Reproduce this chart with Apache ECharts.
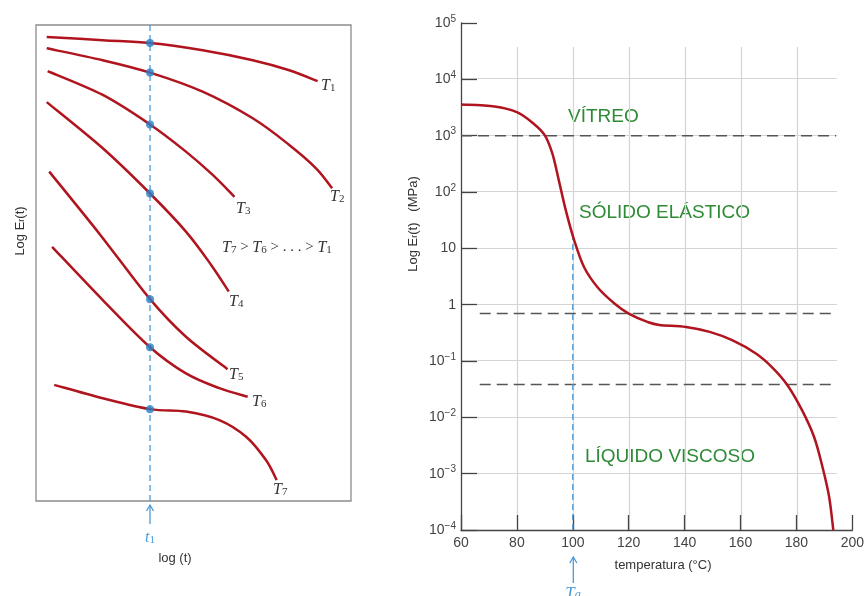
<!DOCTYPE html>
<html>
<head>
<meta charset="utf-8">
<script src="https://cdn.jsdelivr.net/npm/echarts@6/dist/echarts.min.js"></script>
<style>
  html, body { margin: 0; padding: 0; background: #fff; }
  #chart { width: 867px; height: 596px; }
</style>
</head>
<body>
<div id="chart"></div>
<script>
// left panel: schematic curves, x = log(t), y = log Er(t) (arbitrary units 0..100)
const curveT1 = [[3.4, 97.5], [21.2, 96.8], [36.2, 96.2], [52.9, 94.7], [68.8, 92.6], [80.4, 90.5], [89.4, 88.2]]
const curveT2 = [[3.4, 95.1], [21.2, 92.6], [36.2, 90.0], [52.9, 86.0], [68.8, 80.4], [80.4, 74.8], [88.9, 69.9], [94.0, 65.7]]
const curveT3 = [[3.7, 90.3], [21.2, 85.3], [36.2, 79.1], [47.6, 73.4], [56.1, 68.5], [63.0, 63.9]]
const curveT4 = [[3.4, 83.8], [21.2, 74.1], [36.2, 64.6], [47.6, 56.6], [55.6, 49.6], [61.2, 44.0]]
const curveT5 = [[4.2, 69.2], [20.3, 56.0], [36.2, 42.4], [47.6, 34.5], [60.8, 27.7]]
const curveT6 = [[5.1, 53.4], [21.2, 42.2], [36.2, 32.3], [47.6, 26.8], [58.2, 23.7], [67.2, 21.9]]
const curveT7 = [[5.8, 24.4], [21.2, 21.6], [36.2, 19.3], [47.6, 18.8], [58.2, 17.0], [66.7, 13.5], [73.0, 8.6], [76.4, 4.4]]
const curvesLeft = [curveT1, curveT2, curveT3, curveT4, curveT5, curveT6, curveT7]
const t1Pos = 36.2
const t1Values = [96.2, 90.0, 79.1, 64.6, 42.4, 32.3, 19.3]

// right panel: relaxation modulus vs temperature
const tempC = [60, 72, 80, 86, 90, 92.7, 95, 97.5, 100.5, 104, 109, 115, 120, 126.7, 131, 140.5, 149, 157, 165.5, 171.4, 176.8, 182, 186.3, 189.3, 191.7, 193.2]
const modulus = [3570, 3300, 2610, 1630, 1010, 478, 161, 47.2, 13.9, 4.67, 2.0, 1.04, 0.695, 0.494, 0.437, 0.403, 0.329, 0.234, 0.136, 0.0766, 0.0372, 0.0134, 0.00452, 0.00133, 0.00039, 0.0001]
const boundaryLevels = [1000, 0.695, 0.0383]
const boundaryStart = [60, 66.7, 66.7]
const boundaryEnd = 194.2
const tgTemp = 100
const tgModulus = 15

const RED = '#b0141e'
const BLUE = '#2a7fc4'
const BLUE_LINE = '#4a9ad8'
const GREEN = '#2e8b35'

const chart = echarts.init(document.getElementById('chart'))

const hidden = { axisLine: { show: false }, axisTick: { show: false }, axisLabel: { show: false }, splitLine: { show: false } }

const supLabel = v => {
    const e = Math.round(Math.log10(v))
    if (e === 0) return '1'
    if (e === 1) return '10'
    return '10{sup|' + (e < 0 ? '\u2212' + (-e) : e) + '}'
}

// smooth curve through the pixel points (Catmull-Rom -> cubic bezier)
const smoothPath = pts => {
    let d = 'M' + pts[0][0] + ' ' + pts[0][1]
    for (let i = 0; i < pts.length - 1; i++) {
        const p0 = pts[i - 1] || pts[i]
        const p1 = pts[i]
        const p2 = pts[i + 1]
        const p3 = pts[i + 2] || p2
        const c1 = [p1[0] + (p2[0] - p0[0]) / 6, p1[1] + (p2[1] - p0[1]) / 6]
        const c2 = [p2[0] - (p3[0] - p1[0]) / 6, p2[1] - (p3[1] - p1[1]) / 6]
        d += ' C' + c1[0] + ' ' + c1[1] + ' ' + c2[0] + ' ' + c2[1] + ' ' + p2[0] + ' ' + p2[1]
    }
    return d
}

const curveSeries = (name, points, xi, yi) => ({
    name,
    type: 'custom',
    xAxisIndex: xi,
    yAxisIndex: yi,
    data: points,
    clip: false,
    z: 4,
    renderItem: (params, api) => {
        if (params.dataIndex !== 0) return null
        const px = points.map(p => api.coord(p))
        return {
            type: 'path',
            shape: { pathData: smoothPath(px) },
            style: { stroke: RED, lineWidth: 2.5, fill: 'none' }
        }
    }
})

const serifRich = {
    i: { fontFamily: 'Liberation Serif', fontStyle: 'italic', fontSize: 16, fill: '#333', verticalAlign: 'top', lineHeight: 16 },
    s: { fontFamily: 'Liberation Serif', fontSize: 11, fill: '#333', verticalAlign: 'bottom', lineHeight: 10 },
    n: { fontFamily: 'Liberation Serif', fontSize: 15, fill: '#333', verticalAlign: 'top', lineHeight: 16 }
}

const tLabel = (x, y, n) => ({
    type: 'text', x, y,
    style: { text: '{i|T}{s|' + n + '}', rich: serifRich, align: 'left', verticalAlign: 'middle' }
})

const plain = (x, y, text, extra) => ({
    type: 'text', x, y,
    style: Object.assign({ text, align: 'center', verticalAlign: 'middle', fill: '#333', fontFamily: 'Liberation Sans', fontSize: 13 }, extra)
})

const option = {
    animation: false,
    grid: [
        { left: 36, top: 25, width: 315, height: 476, show: true, borderColor: '#8c8c8c', borderWidth: 1.3, backgroundColor: 'transparent' },
        { left: 461, top: 23, width: 392, height: 507 },
        { left: 461, top: 47, width: 376, height: 483 }
    ],
    xAxis: [
        Object.assign({ type: 'value', gridIndex: 0, min: 0, max: 100 }, hidden),
        {
            type: 'value', gridIndex: 1, min: 60, max: 200, interval: 20,
            axisLine: { lineStyle: { color: '#444', width: 1.3 } },
            axisTick: { inside: true, length: 15, lineStyle: { color: '#444', width: 1.3 } },
            axisLabel: { color: '#444', fontSize: 14, fontFamily: 'Liberation Sans', margin: 6 },
            splitLine: { show: false }
        },
        {
            type: 'value', gridIndex: 2, min: 60, max: 194.2, interval: 20,
            axisLine: { show: false }, axisTick: { show: false }, axisLabel: { show: false },
            splitLine: { show: true, showMinLine: false, showMaxLine: false, lineStyle: { color: '#d4d4d4', width: 1.2 } }
        }
    ],
    yAxis: [
        Object.assign({ type: 'value', gridIndex: 0, min: 0, max: 100 }, hidden),
        {
            type: 'log', logBase: 10, gridIndex: 1, min: 0.0001, max: 100000, splitNumber: 9,
            axisLine: { lineStyle: { color: '#444', width: 1.3 } },
            axisTick: {
                inside: true, length: 16, lineStyle: { color: '#444', width: 1.3 },
                interval: i => i < 9
            },
            axisLabel: {
                color: '#444', fontSize: 14, fontFamily: 'Liberation Sans', margin: 5,
                formatter: supLabel,
                rich: { sup: { fontSize: 10, color: '#444', verticalAlign: 'top', padding: [0, 0, 8, 0] } }
            },
            splitLine: { show: false }
        },
        {
            type: 'value', gridIndex: 2, min: -4, max: 4.56, interval: 1,
            axisLine: { show: false }, axisTick: { show: false }, axisLabel: { show: false },
            splitLine: { show: true, showMinLine: false, showMaxLine: false, lineStyle: { color: '#d4d4d4', width: 1.2 } }
        }
    ],
    series: [
        {
            type: 'line', xAxisIndex: 0, yAxisIndex: 0,
            data: [[t1Pos, 0], [t1Pos, 100]],
            showSymbol: false,
            lineStyle: { color: BLUE_LINE, width: 1.3, type: [6, 4] },
            z: 2
        },
        ...curvesLeft.map((c, i) => curveSeries('T' + (i + 1), c, 0, 0)),
        {
            type: 'scatter', xAxisIndex: 0, yAxisIndex: 0,
            data: t1Values.map(v => [t1Pos, v]),
            symbolSize: 8,
            itemStyle: { color: BLUE },
            z: 6
        },
        ...boundaryLevels.map((lv, i) => ({
            type: 'line', xAxisIndex: 1, yAxisIndex: 1,
            data: [[boundaryStart[i], lv], [boundaryEnd, lv]],
            showSymbol: false,
            lineStyle: { color: '#555', width: 1.5, type: [11, 6] },
            z: 2
        })),
        {
            type: 'line', xAxisIndex: 1, yAxisIndex: 1,
            data: [[tgTemp, 0.0001], [tgTemp, tgModulus]],
            showSymbol: false,
            lineStyle: { color: BLUE_LINE, width: 1.4, type: [6, 4] },
            z: 2
        },
        curveSeries('Er', tempC.map((t, i) => [t, modulus[i]]), 1, 1)
    ],
    graphic: [
        // left panel annotations
        tLabel(321, 86, 1),
        tLabel(330, 197, 2),
        tLabel(236, 209, 3),
        tLabel(229, 302, 4),
        tLabel(229, 375, 5),
        tLabel(252, 402, 6),
        tLabel(273, 490, 7),
        {
            type: 'text', x: 222, y: 248,
            style: {
                text: '{i|T}{s|7}{n| > }{i|T}{s|6}{n| > . . . > }{i|T}{s|1}',
                rich: serifRich, align: 'left', verticalAlign: 'middle'
            }
        },
        { type: 'polyline', shape: { points: [[150, 524], [150, 505]] }, style: { stroke: BLUE_LINE, lineWidth: 1.3 } },
        { type: 'polyline', shape: { points: [[146.5, 511], [150, 505], [153.5, 511]] }, style: { stroke: BLUE_LINE, lineWidth: 1.3, fill: null } },
        {
            type: 'text', x: 150, y: 538,
            style: {
                text: '{i|t}{s|1}', align: 'center', verticalAlign: 'middle',
                rich: {
                    i: { fontFamily: 'Liberation Serif', fontStyle: 'italic', fontSize: 16, fill: BLUE_LINE, verticalAlign: 'top', lineHeight: 16 },
                    s: { fontFamily: 'Liberation Serif', fontSize: 11, fill: BLUE_LINE, verticalAlign: 'bottom', lineHeight: 10 }
                }
            }
        },
        plain(175, 558, 'log (t)'),
        {
            type: 'text', x: 20, y: 231, rotation: Math.PI / 2,
            style: {
                text: 'Log E{s|r}(t)', align: 'center', verticalAlign: 'middle',
                fill: '#333', fontFamily: 'Liberation Sans', fontSize: 13,
                rich: { s: { fontSize: 9, fill: '#333', verticalAlign: 'bottom', lineHeight: 8 } }
            }
        },
        // right panel annotations
        plain(568, 117, 'VÍTREO', { align: 'left', fill: GREEN, fontSize: 19 }),
        plain(579, 213, 'SÓLIDO ELÁSTICO', { align: 'left', fill: GREEN, fontSize: 19 }),
        plain(585, 457, 'LÍQUIDO VISCOSO', { align: 'left', fill: GREEN, fontSize: 19 }),
        plain(663, 565, 'temperatura (°C)'),
        {
            type: 'text', x: 413, y: 224, rotation: Math.PI / 2,
            style: {
                text: 'Log E{s|r}(t)   (MPa)', align: 'center', verticalAlign: 'middle',
                fill: '#333', fontFamily: 'Liberation Sans', fontSize: 13,
                rich: { s: { fontSize: 9, fill: '#333', verticalAlign: 'bottom', lineHeight: 8 } }
            }
        },
        { type: 'polyline', shape: { points: [[573.3, 583], [573.3, 557]] }, style: { stroke: BLUE_LINE, lineWidth: 1.3 } },
        { type: 'polyline', shape: { points: [[569.8, 563], [573.3, 557], [576.8, 563]] }, style: { stroke: BLUE_LINE, lineWidth: 1.3, fill: null } },
        {
            type: 'text', x: 573, y: 593,
            style: {
                text: '{i|T}{s|g}', align: 'center', verticalAlign: 'middle',
                rich: {
                    i: { fontFamily: 'Liberation Serif', fontStyle: 'italic', fontSize: 17, fill: BLUE_LINE, verticalAlign: 'top', lineHeight: 16 },
                    s: { fontFamily: 'Liberation Serif', fontStyle: 'italic', fontSize: 12, fill: BLUE_LINE, verticalAlign: 'bottom', lineHeight: 10 }
                }
            }
        }
    ]
}

chart.setOption(option)
window.addEventListener('resize', () => chart.resize())
</script>
</body>
</html>
